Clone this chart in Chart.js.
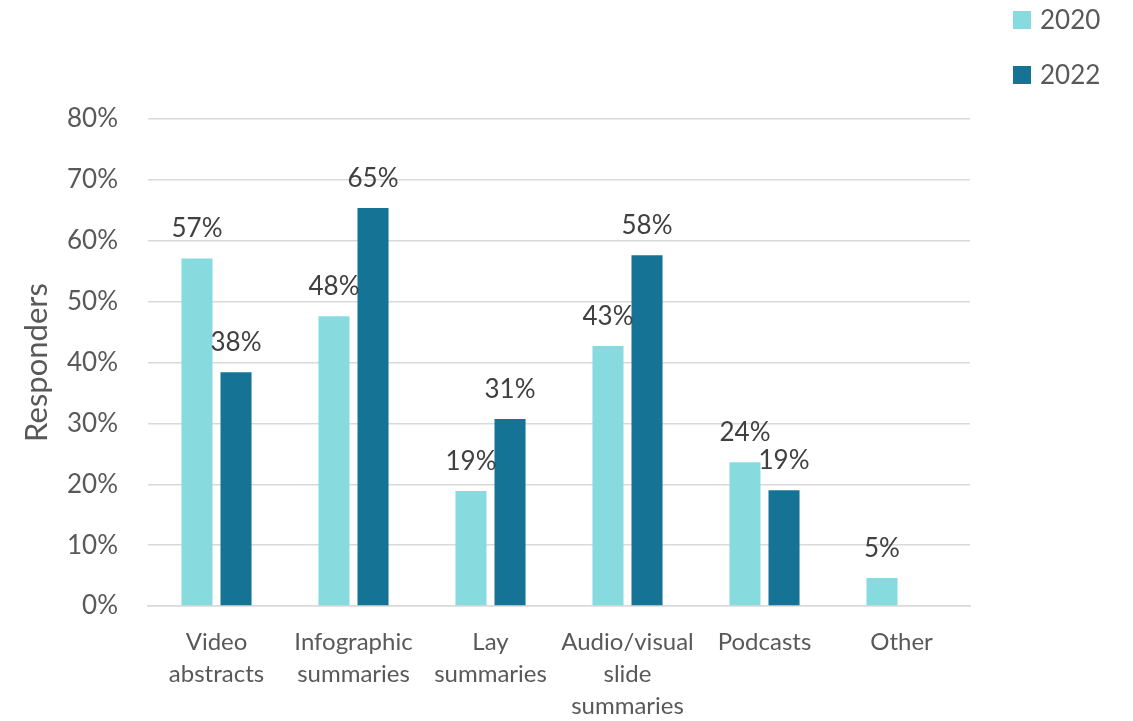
<!DOCTYPE html>
<html>
<head>
<meta charset="utf-8">
<script src="https://cdn.jsdelivr.net/npm/chart.js@4"></script>
<style>
  html, body { margin: 0; padding: 0; background: #ffffff; }
  #wrap { width: 1133px; height: 721px; position: relative; }
</style>
</head>
<body>
<div id="wrap"><canvas id="c" width="1133" height="721"></canvas></div>
<script>
const categories = [
  ["Video", "abstracts"],
  ["Infographic", "summaries"],
  ["Lay", "summaries"],
  ["Audio/visual", "slide", "summaries"],
  ["Podcasts"],
  ["Other"]
];
const series2020 = [57.1, 47.6, 18.9, 42.7, 23.6, 4.6];
const series2022 = [38.4, 65.4, 30.7, 57.6, 19.0, null];
const seriesNames = ["2020", "2022"];
const yTicks = [0, 10, 20, 30, 40, 50, 60, 70, 80];
const yTitle = "Responders";

const colors = ["#87DBDF", "#157396"];
const FONT = "Lato, 'Open Sans', sans-serif";

const dataLabels = {
  id: 'dataLabels',
  afterDatasetsDraw(chart) {
    const ctx = chart.ctx;
    ctx.save();
    ctx.font = "26px " + FONT;
    ctx.fillStyle = "#404040";
    ctx.textAlign = "center";
    ctx.textBaseline = "alphabetic";
    chart.data.datasets.forEach((ds, di) => {
      const meta = chart.getDatasetMeta(di);
      meta.data.forEach((el, i) => {
        const v = ds.data[i];
        if (v === null || v === undefined) return;
        ctx.fillText(Math.round(v) + "%", el.x, el.y - 21);
      });
    });
    ctx.restore();
  }
};

const customLegend = {
  id: 'customLegend',
  afterDraw(chart) {
    const ctx = chart.ctx;
    ctx.save();
    ctx.font = "26px " + FONT;
    ctx.textBaseline = "middle";
    ctx.textAlign = "left";
    chart.data.datasets.forEach((ds, i) => {
      const y = 20 + i * 55;
      ctx.fillStyle = ds.backgroundColor;
      ctx.fillRect(1013, y - 9, 18, 18);
      ctx.fillStyle = "#595959";
      ctx.fillText(ds.label, 1040, y + 1);
    });
    ctx.restore();
  }
};

new Chart(document.getElementById('c'), {
  type: 'bar',
  data: {
    labels: categories,
    datasets: [
      { label: seriesNames[0], data: series2020, backgroundColor: colors[0] },
      { label: seriesNames[1], data: series2022, backgroundColor: colors[1] }
    ]
  },
  options: {
    responsive: false,
    animation: false,
    devicePixelRatio: 1,
    categoryPercentage: 0.57,
    barPercentage: 0.795,
    layout: { padding: { top: 119, right: 163, bottom: 0, left: 0 } },
    plugins: {
      legend: { display: false },
      tooltip: { enabled: false }
    },
    scales: {
      x: {
        grid: { display: false, drawTicks: false },
        border: { display: true, color: "#d9d9d9", width: 1.5 },
        ticks: {
          color: "#595959",
          font: { family: FONT, size: 24, lineHeight: 1.33 },
          padding: 20,
          maxRotation: 0,
          autoSkip: false
        },
        afterFit(scale) { scale.height = 115; }
      },
      y: {
        min: 0,
        max: 80,
        afterBuildTicks(scale) { scale.ticks = yTicks.map(v => ({ value: v })); },
        grid: { color: "#d9d9d9", lineWidth: 1.5, drawTicks: false },
        border: { display: false },
        ticks: {
          color: "#595959",
          font: { family: FONT, size: 26 },
          padding: 30,
          callback: v => v + "%"
        },
        title: {
          display: true,
          text: yTitle,
          color: "#595959",
          font: { family: FONT, size: 31 },
          padding: { top: 18, bottom: 0 }
        },
        afterFit(scale) { scale.width = 148; }
      }
    }
  },
  plugins: [dataLabels, customLegend]
});
</script>
</body>
</html>
